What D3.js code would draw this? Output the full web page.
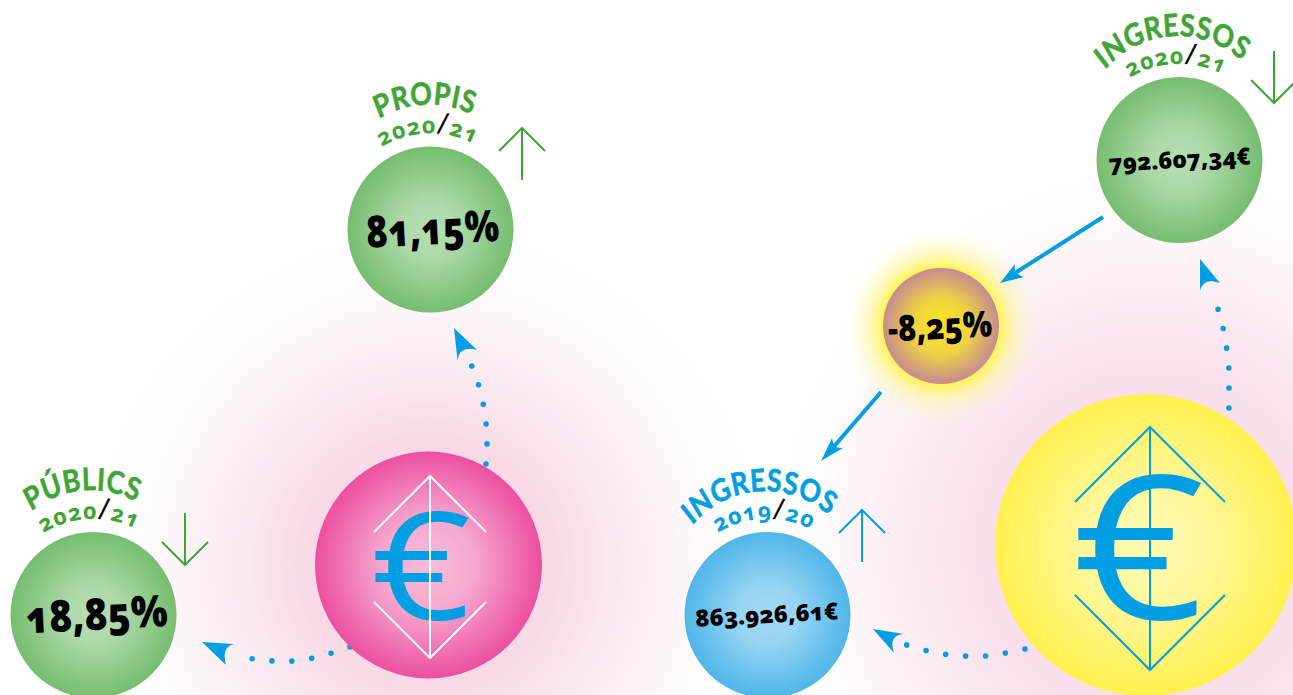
<!DOCTYPE html>
<html lang="ca">
<head>
<meta charset="utf-8">
<title>Ingressos</title>
<script src="https://cdnjs.cloudflare.com/ajax/libs/d3/7.8.5/d3.min.js"></script>
<style>
  html, body { margin: 0; padding: 0; background: #fff; overflow: hidden; }
  text { font-family: "Open Sans", "Noto Sans", sans-serif; font-feature-settings: "onum", "kern"; }
</style>
</head>
<body>
<div id="container"></div>
<script>
"use strict";

// Chart content.
const titles = ["PROPIS", "PÚBLICS", "INGRESSOS", "INGRESSOS"];
const yearFrom = ["2020", "2020", "2020", "2019"];
const yearTo = ["21", "21", "21", "20"];
const values = ["81,15%", "18,85%", "792.607,34€", "863.926,61€"];
const trends = ["up", "down", "down", "up"];
const changeLabel = "-8,25%";
const currencyLabel = "€";

// Layout, one entry per bubble above.
const bubbleX = [430.5, 93.5, 1179.5, 767.5];
const bubbleY = [229.5, 615, 160, 615];
const bubbleR = 83;
const bubbleGradient = ["green", "green", "green", "blue"];
const titleColor = ["#3fa535", "#3fa535", "#3fa535", "#009fe3"];
const titleRadius = [125, 125, 124, 124];
const titleTilt = [-2.5, -5, -3.5, -4];
const titleSqueeze = 0.86;
const yearRadius = [96, 96, 96, 96];
const yearTilt = [-1.5, -2.5, -2, -2];
const valueFont = [44, 44, 23.5, 23.5];
const valueWidth = [133, 142, 142, 143];
const valueShift = [2, 3, 0, -1];
const trendX = [522, 185, 1274, 862];
const trendY = [128, 513, 51, 510];

const blue = "#009fe3";
const width = 1293;
const height = 695;

const svg = d3
  .select("#container")
  .append("svg")
  .attr("width", width)
  .attr("height", height)
  .style("display", "block");

const defs = svg.append("defs");

/**
 * @param {string} id
 * @param {[number, string, number?][]} stops
 */
function radial(id, stops) {
  const g = defs.append("radialGradient").attr("id", id);
  stops.forEach(([offset, color, opacity]) => {
    g.append("stop")
      .attr("offset", offset)
      .attr("stop-color", color)
      .attr("stop-opacity", opacity ?? 1);
  });
}

radial("green", [[0, "#b7deb3"], [0.35, "#add9a8"], [1, "#76bd70"]]);
radial("blue", [[0, "#a3d9f5"], [0.35, "#97d5f3"], [1, "#4fb6e9"]]);
radial("pink", [[0, "#f8bcd8"], [0.4, "#f6a9cf"], [1, "#ec4fa1"]]);
radial("yellow", [[0, "#fffab4"], [0.4, "#fff79c"], [1, "#fff04e"]]);
radial("change", [[0, "#fbe81a"], [0.5, "#eed244"], [1, "#c68b92"]]);
radial("glowPink", [[0, "#f8d6e4"], [0.36, "#f8d9e6"], [0.52, "#fae7ef"], [0.72, "#fdf4f8"], [1, "#ffffff", 0]]);
radial("glowYellow", [[0, "#f8dbe7"], [0.45, "#f9dfea"], [0.62, "#fbeaf1"], [0.82, "#fef6f9"], [1, "#ffffff", 0]]);
radial("glowChange", [[0, "#fff35a"], [0.6, "#fff35a"], [0.75, "#fff69a", 0.6], [1, "#fffbd0", 0]]);

// Pink haze behind the two currency bubbles.
svg.append("circle").attr("cx", 428).attr("cy", 565).attr("r", 345).attr("fill", "url(#glowPink)");
svg.append("circle").attr("cx", 1150).attr("cy", 545).attr("r", 380).attr("fill", "url(#glowYellow)");
svg.append("circle").attr("cx", 941).attr("cy", 326).attr("r", 97).attr("fill", "url(#glowChange)");

// Dotted arrows.
const dottedPaths = [
  [[486, 464], [487, 443], [486, 423], [483, 403], [478, 383], [471, 364]],
  [[350, 647], [332, 653], [313, 658], [293, 661], [274, 661], [254, 659], [235, 655]],
  [[1025, 649], [1005, 653], [985, 656], [964, 656], [944, 654], [924, 650], [904, 644]],
  [[1229, 408], [1229, 389], [1229, 370], [1227, 351], [1224, 332], [1219, 313], [1214, 294]],
];
const dottedHeads = [
  [[454, 328], [477, 350], [457.5, 360], [460, 345]],
  [[202, 642], [234, 644], [226, 665], [221, 647]],
  [[873, 629], [904, 634], [894, 653], [888, 635]],
  [[1200, 259], [1220, 283], [1200, 291], [1203, 277]],
];
// Solid arrows, line start and end.
const solidPaths = [
  [[1103, 217], [1012, 275]],
  [[881, 392], [830, 451]],
];
const solidHeads = [
  [[1000, 283], [1015, 264], [1024, 277], [1013, 274]],
  [[821, 461], [832, 438], [843, 448], [833, 449]],
];

const curve = d3.line().curve(d3.curveCatmullRom);

svg
  .selectAll(".dotted")
  .data(dottedPaths)
  .enter()
  .append("path")
  .attr("class", "dotted")
  .attr("d", curve)
  .attr("fill", "none")
  .attr("stroke", blue)
  .attr("stroke-width", 5.6)
  .attr("stroke-linecap", "round")
  .attr("stroke-dasharray", "0 20");

svg
  .selectAll(".solid")
  .data(solidPaths)
  .enter()
  .append("path")
  .attr("class", "solid")
  .attr("d", d3.line())
  .attr("stroke", blue)
  .attr("stroke-width", 4);

/** Arrow head with a notched back: tip, wing, wing, notch. */
function headPath([tip, a, b, notch]) {
  const p = d3.path();
  p.moveTo(tip[0], tip[1]);
  p.lineTo(a[0], a[1]);
  p.quadraticCurveTo(notch[0], notch[1], b[0], b[1]);
  p.closePath();
  return p.toString();
}

svg
  .selectAll(".head")
  .data(dottedHeads.concat(solidHeads))
  .enter()
  .append("path")
  .attr("class", "head")
  .attr("d", headPath)
  .attr("fill", blue);

// Value bubbles.
const nodes = svg
  .selectAll(".bubble")
  .data(titles.map((title, i) => i))
  .enter()
  .append("g")
  .attr("class", "bubble");

nodes
  .append("circle")
  .attr("cx", (i) => bubbleX[i])
  .attr("cy", (i) => bubbleY[i])
  .attr("r", bubbleR)
  .attr("fill", (i) => `url(#${bubbleGradient[i]})`);

/** Clockwise arc over the top of a bubble, text runs along it. */
function topArc(id, cx, cy, r) {
  defs
    .append("path")
    .attr("id", id)
    .attr("d", `M${cx - r},${cy}A${r},${r} 0 0 1 ${cx + r},${cy}`);
}

nodes.each(function (i) {
  const node = d3.select(this);
  const cx = bubbleX[i];
  const cy = bubbleY[i];
  const tilt = `rotate(${titleTilt[i]} ${cx} ${cy})`;
  topArc(`title${i}`, cx, cy, titleRadius[i]);
  topArc(`year${i}`, cx, cy, yearRadius[i]);

  // The squeeze stands in for the narrower lettering of the original.
  node
    .append("text")
    .attr("transform", `${tilt} translate(${cx} 0) scale(${titleSqueeze} 1) translate(${-cx} 0)`)
    .attr("fill", titleColor[i])
    .attr("stroke", titleColor[i])
    .attr("stroke-width", 0.6)
    .style("font-family", "Lato")
    .attr("font-size", 31)
    .attr("font-weight", 700)
    .attr("letter-spacing", 0.6)
    .attr("text-anchor", "middle")
    .append("textPath")
    .attr("href", `#title${i}`)
    .attr("startOffset", "50%")
    .text(titles[i]);

  const year = node
    .append("text")
    .attr("transform", `rotate(${yearTilt[i]} ${cx} ${cy})`)
    .attr("fill", titleColor[i])
    .attr("font-size", 23)
    .attr("font-weight", 700)
    .attr("letter-spacing", 1)
    .attr("text-anchor", "middle")
    .append("textPath")
    .attr("href", `#year${i}`)
    .attr("startOffset", "50%");
  year.append("tspan").text(yearFrom[i]);
  year.append("tspan").attr("fill", "#000").attr("font-size", 30).attr("font-weight", 400).text("/");
  year.append("tspan").text(yearTo[i]);

  node
    .append("text")
    .attr("x", cx + valueShift[i])
    .attr("y", cy + valueFont[i] * 0.34)
    .attr("transform", `rotate(-3 ${cx} ${cy})`)
    .attr("text-anchor", "middle")
    .attr("font-size", valueFont[i])
    .attr("font-weight", 800)
    .attr("fill", "#000")
    .attr("textLength", valueWidth[i])
    .attr("lengthAdjust", "spacingAndGlyphs")
    .text(values[i]);

  // Up or down trend arrow.
  const x = trendX[i];
  const y = trendY[i];
  const tipY = trends[i] === "up" ? y : y + 52;
  const wingY = trends[i] === "up" ? y + 23 : y + 29;
  node
    .append("path")
    .attr("d", `M${x},${y}V${y + 52}M${x - 23},${wingY}L${x},${tipY}L${x + 23},${wingY}`)
    .attr("fill", "none")
    .attr("stroke", titleColor[i])
    .attr("stroke-width", 2);
});

// Percentage change bubble.
svg.append("circle").attr("cx", 941).attr("cy", 326).attr("r", 58).attr("fill", "url(#change)");
svg
  .append("text")
  .attr("x", 940)
  .attr("y", 339)
  .attr("transform", "rotate(-3 941 326)")
  .attr("text-anchor", "middle")
  .attr("font-size", 36)
  .attr("font-weight", 800)
  .attr("fill", "#000")
  .attr("textLength", 104)
  .attr("lengthAdjust", "spacingAndGlyphs")
  .text(changeLabel);

// Currency bubbles with the euro sign between two chevrons.
const currencyX = [428.5, 1146];
const currencyY = [565, 545];
const currencyR = [113.5, 151];
const currencyFill = ["pink", "yellow"];
const currencyLine = ["#ffffff", blue];
const currencyFont = [150, 200];
const currencyWidth = [100, 132];
const currencyGlyphX = [421, 1138.5];
const markX = [430, 1150];
const markTop = [476, 427];
const markBottom = [658, 670];
const markSpan = [56, 75];

currencyX.forEach((x, i) => {
  svg
    .append("circle")
    .attr("cx", x)
    .attr("cy", currencyY[i])
    .attr("r", currencyR[i])
    .attr("fill", `url(#${currencyFill[i]})`);
  svg
    .append("text")
    .attr("x", currencyGlyphX[i])
    .attr("y", (markTop[i] + markBottom[i]) / 2 + currencyFont[i] * 0.35)
    .attr("text-anchor", "middle")
    .attr("font-size", currencyFont[i])
    .attr("fill", blue)
    .attr("textLength", currencyWidth[i])
    .attr("lengthAdjust", "spacingAndGlyphs")
    .text(currencyLabel);
  const mx = markX[i];
  const s = markSpan[i];
  const top = markTop[i];
  const bottom = markBottom[i];
  svg
    .append("path")
    .attr(
      "d",
      `M${mx},${top}V${bottom}M${mx - s},${top + s}L${mx},${top}L${mx + s},${top + s}` +
        `M${mx - s},${bottom - s}L${mx},${bottom}L${mx + s},${bottom - s}`
    )
    .attr("fill", "none")
    .attr("stroke", currencyLine[i])
    .attr("stroke-width", 2);
});
</script>
</body>
</html>
